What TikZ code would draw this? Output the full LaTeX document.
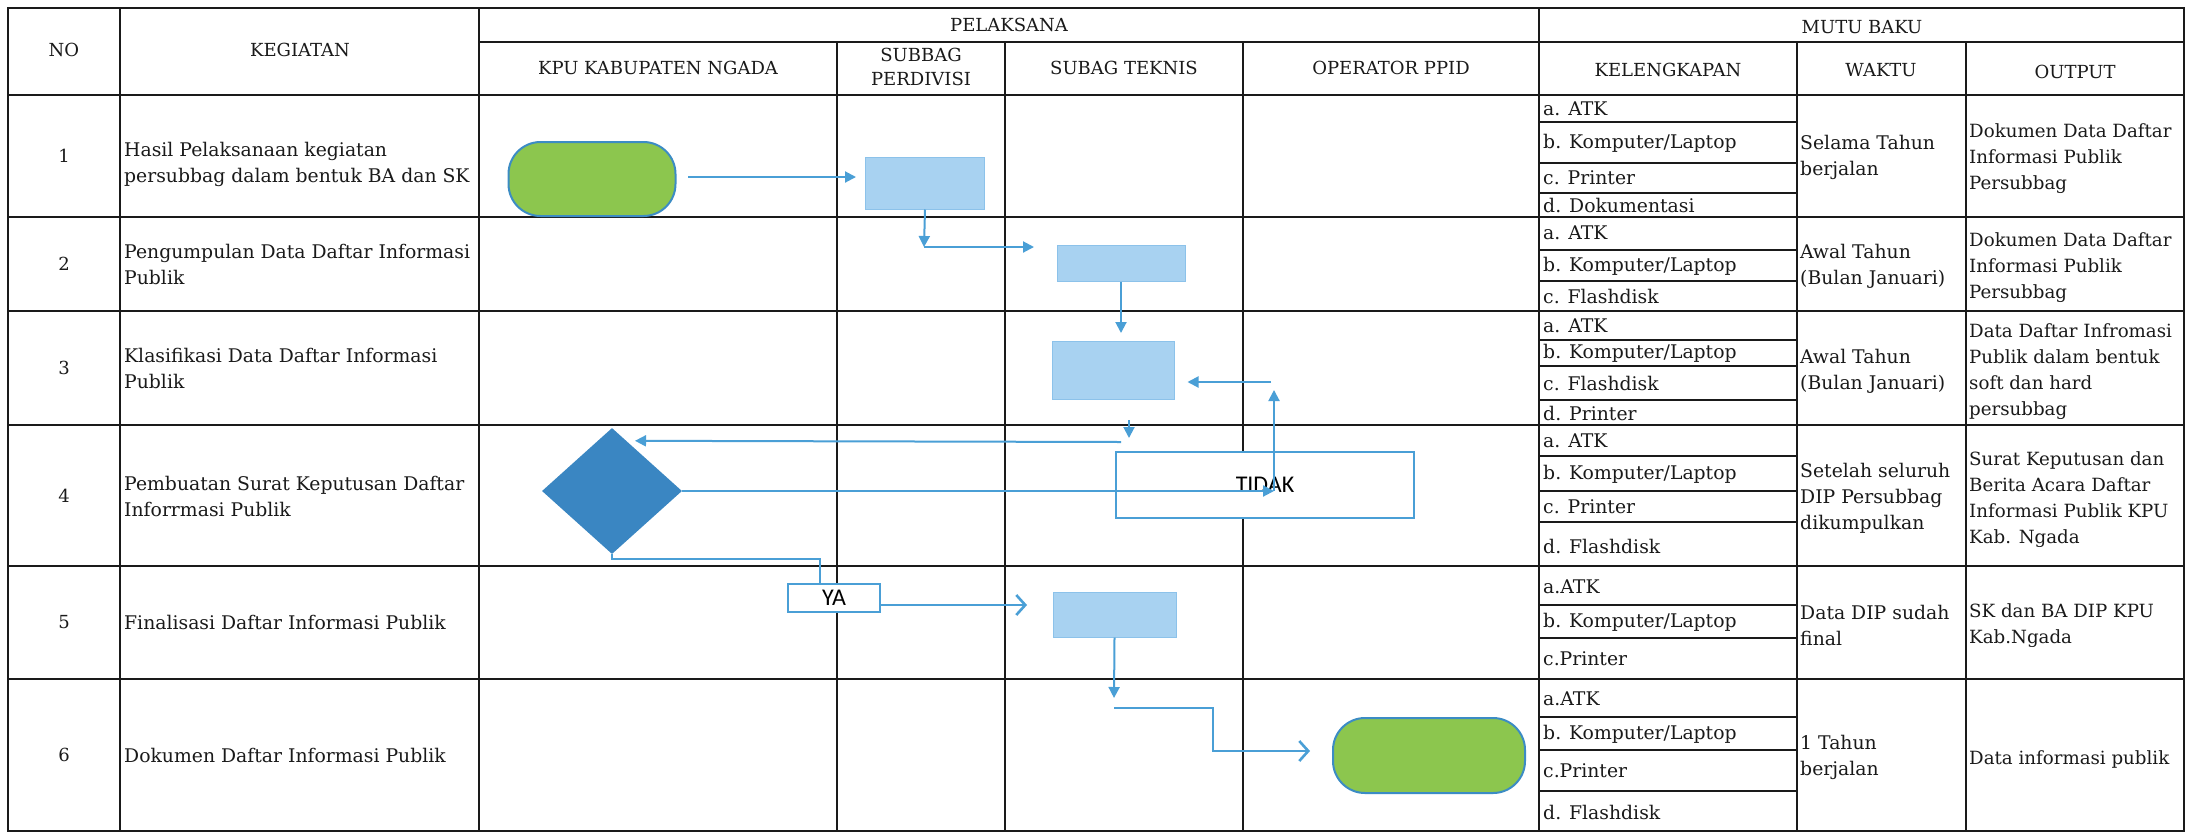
\documentclass[tikz,border=0pt]{standalone}
\usepackage{fontspec}
\setmainfont{DejaVu Serif}
\newfontfamily\sansf{Carlito}
\usetikzlibrary{arrows.meta,shapes.geometric,calc}
\definecolor{connblue}{HTML}{4A9FD6}
\definecolor{boxblue}{HTML}{A8D2F1}
\definecolor{boxedge}{HTML}{8CC2EA}
\definecolor{termgreen}{HTML}{8CC64E}
\definecolor{termedge}{HTML}{3C8CC4}
\definecolor{diafill}{HTML}{3A86C2}
\definecolor{ink}{HTML}{1A1A1A}
\tikzset{
  grid/.style={line width=2.6pt, draw=ink},
  subgrid/.style={line width=1.7pt, draw=ink},
  hdr/.style={font=\fontsize{18}{24}\selectfont, inner sep=0pt, align=center, text=ink},
  num/.style={font=\fontsize{18}{24}\selectfont, inner sep=0pt, text=ink},
  txt/.style={font=\fontsize{18.8}{26}\selectfont, inner sep=0pt, align=left, anchor=west, text=ink},
  otxt/.style={txt, font=\fontsize{18.2}{26}\selectfont},
  term/.style={draw=termedge, fill=termgreen, line width=2pt, rounded corners=32pt, inner sep=0pt},
  proc/.style={draw=boxedge, fill=boxblue, line width=1pt, inner sep=0pt},
  dec/.style={diamond, fill=diafill, inner sep=0pt},
  lab/.style={draw=connblue, fill=white, line width=2pt, inner sep=0pt, font=\sansf\fontsize{24}{28}\selectfont},
  conn/.style={draw=connblue, line width=2pt},
  tri/.style={-{Triangle[length=11pt,width=11pt]}},
  barb/.style={-{Straight Barb[length=9pt,width=20pt]}, line width=2.6pt}
}
\begin{document}
\begin{tikzpicture}[x=1pt,y=-1pt]
\useasboundingbox (0,0) rectangle (2199,836);
\fill[white] (0,0) rectangle (2199,836);

% ---------- table grid ----------
\draw[grid] (8,8) rectangle (2184,831);
\foreach \x in {120,479,1539} \draw[grid] (\x,8) -- (\x,831);
\draw[grid] (479,42) -- (2184,42);
\draw[grid] (8,95) -- (2184,95);
\foreach \y in {217,311,425,566,679} \draw[grid] (8,\y) -- (2184,\y);
\foreach \x in {837,1005,1243,1797,1966} \draw[grid] (\x,42) -- (\x,831);
\foreach \y in {122,163,193,250,281,340,366,400,456,491,522,605,638,717,750,791}
  \draw[subgrid] (1539,\y) -- (1797,\y);

% ---------- header ----------
\node[hdr] (hno) at (64,50) {NO};
\node[hdr] (hkeg) at (300,50) {KEGIATAN};
\node[hdr] (hpel) at (1009,25) {PELAKSANA};
\node[hdr] (hmutu) at (1862,27) {MUTU BAKU};
\node[hdr] (hkpu) at (658,68) {KPU KABUPATEN NGADA};
\node[hdr] (hsub) at (921,67) {SUBBAG\\PERDIVISI};
\node[hdr] (htek) at (1124,68) {SUBAG TEKNIS};
\node[hdr] (hop) at (1391,68) {OPERATOR PPID};
\node[hdr] (hkel) at (1668,70) {KELENGKAPAN};
\node[hdr] (hwak) at (1881,70) {WAKTU};
\node[hdr] (hout) at (2075,72) {OUTPUT};

% ---------- numbers ----------
\node[num] (n1) at (64,156) {1};
\node[num] (n2) at (64,264) {2};
\node[num] (n3) at (64,368) {3};
\node[num] (n4) at (64,496) {4};
\node[num] (n5) at (64,622) {5};
\node[num] (n6) at (64,755) {6};

% ---------- kegiatan ----------
\node[txt] (k1) at (124,164.5) {Hasil Pelaksanaan kegiatan\\persubbag dalam bentuk BA dan SK};
\node[txt] (k2) at (124,264.5) {Pengumpulan Data Daftar Informasi\\Publik};
\node[txt] (k3) at (124,368.5) {Klasifikasi Data Daftar Informasi\\Publik};
\node[txt] (k4) at (124,496) {Pembuatan Surat Keputusan Daftar\\Inforrmasi Publik};
\node[txt] (k5) at (124,622) {Finalisasi Daftar Informasi Publik};
\node[txt] (k6) at (124,755) {Dokumen Daftar Informasi Publik};

% ---------- kelengkapan ----------
\node[txt] (l11) at (1543,109) {a. ATK};
\node[txt] (l12) at (1543,143) {b. Komputer/Laptop};
\node[txt] (l13) at (1543,178) {c. Printer};
\node[txt] (l14) at (1543,205) {d. Dokumentasi};
\node[txt] (l21) at (1543,233) {a. ATK};
\node[txt] (l22) at (1543,266) {b. Komputer/Laptop};
\node[txt] (l23) at (1543,296) {c. Flashdisk};
\node[txt] (l31) at (1543,326) {a. ATK};
\node[txt] (l32) at (1543,353) {b. Komputer/Laptop};
\node[txt] (l33) at (1543,383) {c. Flashdisk};
\node[txt] (l34) at (1543,413) {d. Printer};
\node[txt] (l41) at (1543,441) {a. ATK};
\node[txt] (l42) at (1543,474) {b. Komputer/Laptop};
\node[txt] (l43) at (1543,507) {c. Printer};
\node[txt] (l44) at (1543,546) {d. Flashdisk};
\node[txt] (l51) at (1543,587) {a.ATK};
\node[txt] (l52) at (1543,622) {b. Komputer/Laptop};
\node[txt] (l53) at (1543,659) {c.Printer};
\node[txt] (l61) at (1543,699) {a.ATK};
\node[txt] (l62) at (1543,734) {b. Komputer/Laptop};
\node[txt] (l63) at (1543,771) {c.Printer};
\node[txt] (l64) at (1543,812) {d. Flashdisk};

% ---------- waktu ----------
\node[txt] (w1) at (1800,157) {Selama Tahun\\berjalan};
\node[txt] (w2) at (1800,266) {Awal Tahun\\(Bulan Januari)};
\node[txt] (w3) at (1800,371) {Awal Tahun\\(Bulan Januari)};
\node[txt] (w4) at (1800,498) {Setelah seluruh\\DIP Persubbag\\dikumpulkan};
\node[txt] (w5) at (1800,625) {Data DIP sudah\\final};
\node[txt] (w6) at (1800,757) {1 Tahun\\berjalan};

% ---------- output ----------
\node[otxt] (o1) at (1969,159) {Dokumen Data Daftar\\Informasi Publik\\Persubbag};
\node[otxt] (o2) at (1969,268) {Dokumen Data Daftar\\Informasi Publik\\Persubbag};
\node[otxt] (o3) at (1969,372) {Data Daftar Infromasi\\Publik dalam bentuk\\soft dan hard\\persubbag};
\node[otxt] (o4) at (1969,500) {Surat Keputusan dan\\Berita Acara Daftar\\Informasi Publik KPU\\Kab. Ngada};
\node[otxt] (o5) at (1969,626) {SK dan BA DIP KPU\\Kab.Ngada};
\node[otxt] (o6) at (1969,759) {Data informasi publik};

% ---------- flow shapes ----------
\node[lab, minimum width=298pt, minimum height=66pt] (tidak) at (1265,485) {TIDAK};
\node[lab, minimum width=92pt, minimum height=28pt] (ya) at (834,598) {YA};
\node[term, minimum width=167pt, minimum height=74pt] (g1) at (592,179) {};
\node[proc, minimum width=119pt, minimum height=52pt] (r1) at (925,183) {};
\node[proc, minimum width=128pt, minimum height=36pt] (r2) at (1121,263) {};
\node[proc, minimum width=122pt, minimum height=58pt] (r3) at (1113,370) {};
\node[dec, minimum width=140pt, minimum height=126pt] (d) at (612,491) {};
\node[proc, minimum width=123pt, minimum height=45pt] (r5) at (1114.5,614.5) {};
\node[term, minimum width=192pt, minimum height=75pt] (g6) at (1429,755.5) {};

% ---------- connectors ----------
\coordinate (c0) at (688,177);
\coordinate (c1) at (924,247);
\coordinate (c2) at (1034,247);
\coordinate (c3) at (1121,333);
\coordinate (c4) at (1271,382);
\coordinate (c5) at (1129,420);
\coordinate (c6) at (1129,438);
\coordinate (c7) at (1121,442);
\coordinate (c8) at (1274,493);
\coordinate (c9) at (1274,390);
\coordinate (c10) at (1027,605);
\coordinate (c11) at (1114,698);
\coordinate (c12) at (1114,708);
\coordinate (c13) at (1213,751);
\coordinate (c14) at (1310,751);

\draw[conn,tri] (c0) -- ($(c0 -| r1.west)+(-9,0)$);
\draw[conn,tri] (r1.south) -- (c1);
\draw[conn,tri] (c1) -- (c2);
\draw[conn,tri] (r2.south) -- (c3);
\draw[conn,tri] (c4) -- ($(r3.east)+(13,12)$);
\draw[conn,tri] (c5) -- (c6);
\draw[conn,tri] (c7) -- ($(d.north)+(23,13)$);
\draw[conn,tri] (d.east) -- (d.east -| c8);
\draw[conn,tri] (d.east -| c8) -- (c9);
\draw[conn] (d.south) -- ++(0,5) -| ([xshift=-14pt]ya.north);
\draw[conn,barb] (ya.east |- c10) -- (c10);
\draw[conn,tri] (r5.south) -- (c11);
\draw[conn,barb] (c12) -| (c13) -- (c14);
\end{tikzpicture}
\end{document}
